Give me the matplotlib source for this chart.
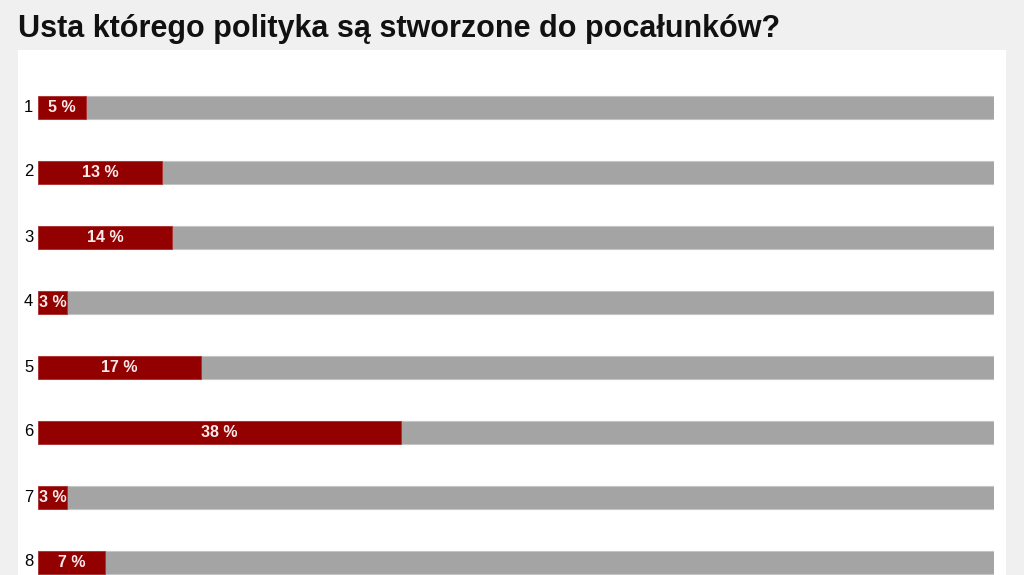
import matplotlib.pyplot as plt
from matplotlib.patches import Rectangle

title = "Usta którego polityka są stworzone do pocałunków?"
labels = ["1", "2", "3", "4", "5", "6", "7", "8"]
values = [5, 13, 14, 3, 17, 38, 3, 7]

W, H = 1024, 575
fig = plt.figure(figsize=(W / 100, H / 100), dpi=100, facecolor="#f0f0f0")
plt.rcParams["font.family"] = ["Liberation Sans", "DejaVu Sans"]

# white panel behind bars
fig.patches.append(Rectangle((18 / W, 0), (1006 - 18) / W, (H - 50) / H,
                             transform=fig.transFigure, facecolor="white",
                             edgecolor="none", zorder=-5))

fig.text(18 / W, 1 - 37 / H, title, fontsize=22, fontweight="bold",
         color="#111111", ha="left", va="baseline")

ax = fig.add_axes([38 / W, 0, (994 - 38) / W, (H - 50) / H], zorder=2)
ax.set_facecolor("none")
row0, step = 107, 65
ax.set_xlim(0, 100)
ax.set_ylim((H - row0) / step, (50 - row0) / step)
ax.axis("off")

ys = list(range(len(labels)))
bh = 23 / step
ax.barh(ys, [100] * len(ys), height=bh, color="#a4a4a4",
        edgecolor="#c4c4c4", linewidth=0.8)
ax.barh(ys, values, height=bh, color="#920000",
        edgecolor="#b03030", linewidth=0.6)

for y, lab, v in zip(ys, labels, values):
    ax.text(v / 2, y + 0.01, f"{v} %", color="#fbeaea", fontsize=11.5,
            fontweight="bold", ha="center", va="center")
    ax.text(-0.5, y, lab, color="black", fontsize=12, ha="right", va="center")

fig.savefig("out.png", dpi=100, facecolor=fig.get_facecolor())
